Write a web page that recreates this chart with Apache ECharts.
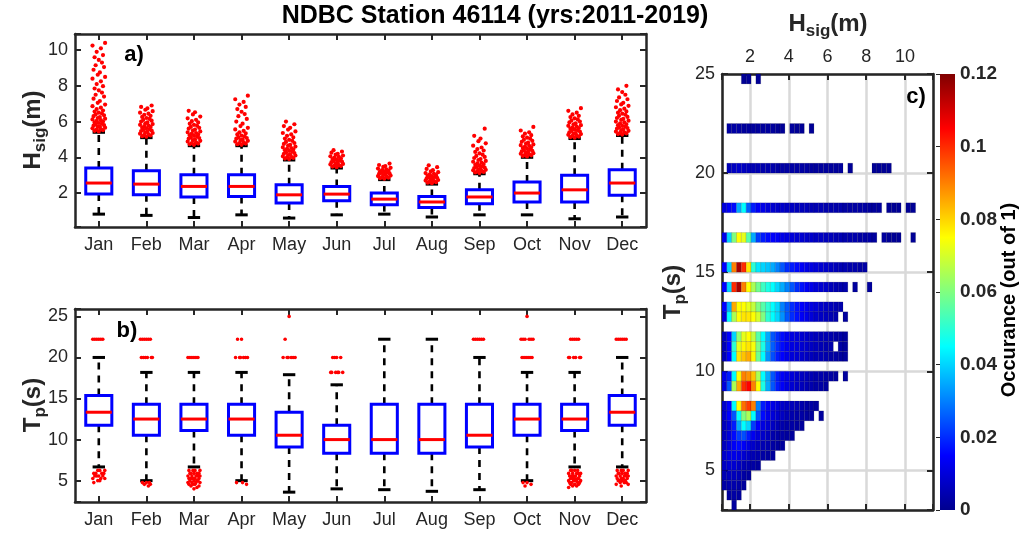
<!DOCTYPE html>
<html>
<head>
<meta charset="utf-8">
<script src="https://cdn.jsdelivr.net/npm/echarts@6/dist/echarts.min.js"></script>
<style>
  html, body { margin: 0; padding: 0; background: #fff; }
  #chart { width: 1021px; height: 537px; }
</style>
</head>
<body>
<div id="chart"></div>
<script>
const _ = null
const months = ['Jan', 'Feb', 'Mar', 'Apr', 'May', 'Jun', 'Jul', 'Aug', 'Sep', 'Oct', 'Nov', 'Dec']

// a) Hsig (m) monthly box statistics
const hsigLow  = [0.82, 0.75, 0.63, 0.78, 0.60, 0.78, 0.82, 0.66, 0.78, 0.78, 0.56, 0.66]
const hsigQ1   = [1.94, 1.90, 1.78, 1.81, 1.44, 1.57, 1.35, 1.19, 1.40, 1.50, 1.50, 1.87]
const hsigMed  = [2.56, 2.50, 2.37, 2.37, 1.90, 1.94, 1.66, 1.50, 1.78, 2.00, 2.18, 2.56]
const hsigQ3   = [3.40, 3.25, 3.02, 3.02, 2.47, 2.37, 2.00, 1.81, 2.18, 2.62, 2.99, 3.31]
const hsigHigh = [5.40, 5.10, 4.65, 4.65, 3.85, 3.40, 2.75, 2.50, 3.08, 4.00, 5.05, 5.22]

// a) Hsig outliers per month
const hsigOutliers = [
    [5.45, 5.48, 5.52, 5.55, 5.58, 5.62, 5.66, 5.7, 5.73, 5.77, 5.8, 5.84, 5.88, 5.92, 5.95, 6.0, 6.04, 6.08, 6.12, 6.16, 6.2, 6.25, 6.3, 6.35, 6.4, 6.45, 6.5, 6.56, 6.62, 6.7, 6.78, 6.86, 6.95, 7.05, 7.15, 7.28, 7.4, 7.5, 7.62, 7.75, 7.85, 7.98, 8.1, 8.25, 8.4, 8.5, 8.62, 8.75, 8.9, 9.05, 9.15, 9.3, 9.45, 9.6, 9.72, 9.9, 10.1, 10.25, 10.4],
    [5.15, 5.18, 5.22, 5.25, 5.29, 5.32, 5.36, 5.4, 5.43, 5.47, 5.5, 5.54, 5.58, 5.62, 5.66, 5.7, 5.74, 5.78, 5.82, 5.86, 5.9, 5.95, 6.0, 6.05, 6.1, 6.15, 6.2, 6.26, 6.32, 6.38, 6.44, 6.5, 6.58, 6.66, 6.74, 6.82, 6.9],
    [4.7, 4.73, 4.77, 4.8, 4.84, 4.88, 4.92, 4.96, 5.0, 5.04, 5.08, 5.12, 5.16, 5.2, 5.24, 5.28, 5.32, 5.36, 5.4, 5.45, 5.5, 5.55, 5.6, 5.65, 5.7, 5.76, 5.82, 5.88, 5.95, 6.02, 6.1, 6.18, 6.28, 6.4, 6.52, 6.6],
    [4.7, 4.73, 4.77, 4.8, 4.84, 4.88, 4.92, 4.96, 5.0, 5.04, 5.08, 5.12, 5.17, 5.22, 5.28, 5.34, 5.4, 5.48, 5.56, 5.65, 5.75, 5.88, 6.0, 6.15, 6.3, 6.42, 6.55, 6.7, 6.82, 6.95, 7.1, 7.25, 7.45],
    [3.9, 3.93, 3.96, 4.0, 4.03, 4.06, 4.1, 4.13, 4.16, 4.2, 4.24, 4.28, 4.32, 4.36, 4.4, 4.44, 4.48, 4.52, 4.56, 4.6, 4.65, 4.7, 4.75, 4.8, 4.86, 4.92, 4.98, 5.05, 5.12, 5.2, 5.28, 5.36, 5.45, 5.55, 5.65, 5.75, 5.85, 6.0],
    [3.45, 3.48, 3.51, 3.54, 3.57, 3.6, 3.63, 3.66, 3.7, 3.73, 3.76, 3.8, 3.83, 3.86, 3.9, 3.94, 3.98, 4.02, 4.06, 4.1, 4.15, 4.2, 4.26, 4.32, 4.4],
    [2.8, 2.83, 2.86, 2.89, 2.92, 2.95, 2.98, 3.01, 3.04, 3.07, 3.1, 3.13, 3.16, 3.19, 3.22, 3.25, 3.29, 3.33, 3.37, 3.41, 3.46, 3.51, 3.57, 3.65],
    [2.55, 2.58, 2.61, 2.64, 2.67, 2.7, 2.73, 2.76, 2.79, 2.82, 2.85, 2.88, 2.91, 2.94, 2.97, 3.0, 3.04, 3.08, 3.12, 3.17, 3.22, 3.28, 3.35, 3.45, 3.55],
    [3.12, 3.15, 3.18, 3.21, 3.24, 3.27, 3.3, 3.33, 3.36, 3.4, 3.43, 3.46, 3.5, 3.54, 3.58, 3.62, 3.66, 3.7, 3.75, 3.8, 3.85, 3.9, 3.96, 4.02, 4.08, 4.15, 4.22, 4.3, 4.38, 4.46, 4.55, 4.65, 4.78, 4.9, 5.05, 5.2, 5.6],
    [4.05, 4.08, 4.11, 4.14, 4.17, 4.2, 4.23, 4.26, 4.3, 4.33, 4.36, 4.4, 4.44, 4.48, 4.52, 4.56, 4.6, 4.64, 4.68, 4.72, 4.77, 4.82, 4.87, 4.92, 4.98, 5.04, 5.1, 5.17, 5.24, 5.32, 5.4, 5.5, 5.7],
    [5.1, 5.13, 5.16, 5.2, 5.23, 5.26, 5.3, 5.33, 5.36, 5.4, 5.44, 5.48, 5.52, 5.56, 5.6, 5.64, 5.68, 5.72, 5.76, 5.8, 5.85, 5.9, 5.95, 6.0, 6.06, 6.12, 6.18, 6.25, 6.32, 6.4, 6.5, 6.6, 6.75],
    [5.27, 5.3, 5.34, 5.37, 5.4, 5.44, 5.48, 5.52, 5.56, 5.6, 5.64, 5.68, 5.72, 5.76, 5.8, 5.85, 5.9, 5.95, 6.0, 6.05, 6.1, 6.15, 6.2, 6.26, 6.32, 6.38, 6.44, 6.5, 6.57, 6.64, 6.72, 6.8, 6.88, 6.96, 7.05, 7.15, 7.25, 7.35, 7.5, 7.65, 7.8, 8.0],
]

// b) Tp (s) monthly box statistics
const tpLow  = [6.67, 5.0, 6.67, 5.0, 3.6, 4.0, 3.9, 3.7, 3.9, 5.0, 6.67, 6.67]
const tpQ1   = [11.76, 10.53, 11.11, 10.53, 9.09, 8.33, 8.33, 8.33, 9.09, 10.53, 11.11, 11.76]
const tpMed  = [13.33, 12.5, 12.5, 12.5, 10.53, 10.0, 10.0, 10.0, 10.53, 12.5, 12.5, 13.33]
const tpQ3   = [15.38, 14.29, 14.29, 14.29, 13.33, 11.76, 14.29, 14.29, 14.29, 14.29, 14.29, 15.38]
const tpHigh = [20.0, 18.18, 18.18, 18.18, 17.9, 16.67, 22.22, 22.22, 20.0, 18.18, 18.18, 20.0]

// b) Tp outliers per month
const tpOutliers = [
    [22.22, 22.22, 22.22, 22.22, 22.22, 22.22, 6.25, 6.25, 6.25, 5.88, 5.88, 5.88, 5.88, 5.56, 5.56, 5.56, 5.56, 5.26, 5.26, 5.26, 5.0, 5.0, 4.76],
    [22.22, 22.22, 22.22, 22.22, 22.22, 22.22, 20, 20, 20, 20, 20, 20, 4.76, 4.76, 4.76, 4.55, 4.55, 4.35],
    [20, 20, 20, 20, 20, 20, 6.25, 6.25, 6.25, 6.25, 5.88, 5.88, 5.88, 5.88, 5.88, 5.56, 5.56, 5.56, 5.56, 5.56, 5.26, 5.26, 5.26, 5.26, 5.26, 5.0, 5.0, 5.0, 5.0, 4.76, 4.76, 4.76, 4.76, 4.55, 4.55, 4.55, 4.35, 4.35, 4.17, 4.0],
    [22.22, 22.22, 20, 20, 20, 20, 20, 20, 4.76, 4.76, 4.55],
    [25, 22.22, 20, 20, 20, 20, 20, 20],
    [20, 20, 20, 20, 18.18, 18.18, 18.18, 18.18, 18.18, 18.18],
    [],
    [],
    [22.22, 22.22, 22.22, 22.22, 22.22, 22.22],
    [25, 22.22, 22.22, 22.22, 22.22, 22.22, 22.22, 20, 20, 20, 20, 20, 20, 4.76, 4.76, 4.55, 4.35],
    [22.22, 22.22, 22.22, 22.22, 22.22, 20, 20, 20, 20, 20, 20, 6.25, 6.25, 6.25, 6.25, 5.88, 5.88, 5.88, 5.88, 5.88, 5.56, 5.56, 5.56, 5.56, 5.56, 5.26, 5.26, 5.26, 5.26, 5.26, 5.0, 5.0, 5.0, 5.0, 5.0, 4.76, 4.76, 4.76, 4.76, 4.55, 4.55, 4.55, 4.35, 4.35, 4.17],
    [22.22, 22.22, 22.22, 22.22, 22.22, 22.22, 6.25, 6.25, 6.25, 6.25, 5.88, 5.88, 5.88, 5.88, 5.88, 5.56, 5.56, 5.56, 5.56, 5.56, 5.26, 5.26, 5.26, 5.26, 5.0, 5.0, 5.0, 5.0, 4.76, 4.76, 4.76, 4.55, 4.55, 4.35],
]

// c) joint occurrence: Tp bin edges per row, Hsig bins of 0.25 m from 0.55 m
const tpBinLow  = [24.5, 22.0, 20.0, 18.0, 16.5, 15.0, 14.0, 13.0, 12.5, 11.5, 11.0, 10.5, 9.5, 9.0, 8.0, 7.5, 7.0, 6.5, 6.0, 5.5, 5.0, 4.5, 4.0, 3.5, 3.0]
const tpBinHigh = [25.0, 22.5, 20.5, 18.5, 17.0, 15.5, 14.5, 13.5, 13.0, 12.0, 11.5, 11.0, 10.0, 9.5, 8.5, 8.0, 7.5, 7.0, 6.5, 6.0, 5.5, 5.0, 4.5, 4.0, 3.5]
const hsigBinStart = 0.55
const hsigBinWidth = 0.25
const occurrence = [
    [_, _, _, _, .001, .001, _, .001],
    [_, .003, .003, .003, .002, .002, .002, .002, .002, .002, .002, .001, .001, _, .002, .001, .001, _, .001],
    [_, .006, .007, .008, .007, .006, .005, .005, .004, .004, .004, .003, .003, .003, .003, .003, .003, .003, .002, .002, .002, .002, .002, .002, .002, _, .001, _, _, _, _, .001, .001, .001, .001],
    [.01, .014, .016, .035, .045, .026, .018, .014, .012, .01, .009, .008, .008, .007, .007, .006, .006, .006, .005, .005, .005, .004, .004, .004, .004, .003, .003, .003, .003, .003, .002, .002, .002, _, .001, .001, .001, _, .001, .001],
    [.012, .04, .06, .075, .072, .055, .035, .022, .018, .016, .015, .014, .012, .011, .01, .009, .009, .008, .008, .007, .007, .006, .006, .005, .005, .004, .004, .004, .003, .003, .003, .002, _, .002, .001, .001, .001, _, _, .001],
    [.015, .04, .09, .115, .1, .078, .05, .042, .04, .038, .035, .03, .025, .02, .018, .016, .014, .012, .011, .01, .009, .008, .007, .006, .005, .005, .004, .004, .003, .003],
    [.015, .04, .1, .115, .09, .075, .065, .058, .052, .048, .045, .04, .035, .03, .025, .02, .017, .014, .012, .01, .009, .008, .006, .005, .004, .004, _, .002, _, _, .002],
    [.015, .035, .085, .075, .075, .072, .068, .06, .055, .05, .045, .04, .03, .025, .02, .017, .015, .013, .011, .01, .008, .007, .006, .005, .004],
    [.01, .045, .065, .075, .078, .078, .075, .07, .06, .05, .045, .04, .032, .025, .02, .017, .014, .012, .01, .008, .007, .006, .005, .004, _, .002],
    [.006, .015, .04, .062, .072, .075, .068, .055, .045, .035, .025, .02, .016, .013, .011, .01, .009, .008, .007, .006, .005, .005, .004, .003, .003, .002],
    [.005, .015, .05, .072, .076, .078, .074, .06, .048, .035, .026, .02, .016, .013, .011, .01, .009, .008, .007, .006, .005, .004, .004, _, .003, .002],
    [.005, .015, .045, .078, .082, .085, .076, .058, .045, .032, .024, .018, .015, .012, .01, .009, .008, .007, .006, .005, .005, .004, .003, .003, .002, .002],
    [.012, .018, .045, .075, .09, .088, .082, .065, .045, .035, .025, .018, .014, .012, .01, .008, .007, .006, .005, .004, .004, .003, .003, .002, _, .002],
    [.01, .025, .065, .085, .1, .105, .09, .075, .048, .035, .025, .018, .014, .011, .009, .007, .006, .005, .004, .003, .003, .002],
    [.008, .015, .045, .075, .092, .098, .09, .03, .018, .014, .012, .01, .008, .007, .006, .005, .004, .003, .003, .002],
    [.008, .015, .025, .045, .06, .065, .045, .025, .016, .012, .01, .008, .007, .005, .004, .003, .003, .002, .002, _, .002],
    [.006, .01, .018, .035, .045, .04, .022, .015, .011, .009, .007, .005, .004, .003, .003, .002, .002],
    [.006, .01, .016, .022, .024, .018, .013, .01, .008, .006, .004, .003, .003, .002, .002],
    [.006, .01, .014, .016, .014, .011, .008, .006, .005, .004, .003, .002, .002],
    [.008, .011, .012, .011, .009, .007, .005, .004, .003, .002, .002],
    [.007, .009, .009, .007, .005, .004, .003, .002],
    [.005, .006, .006, .005, .003, .002],
    [.003, .004, .004, .003, .002],
    [_, .002, .003, .002],
    [_, _, .002],
]

// jet colormap
const jetColors = ['#00008f', '#0000ff', '#0080ff', '#00ffff', '#80ff80', '#ffff00', '#ff8000', '#ff0000', '#800000']
// horizontal scatter of outlier dots
const jitter = [0, -4, 4, -2, 2, -6, 6, -1, 1, -5, 5, -3, 3]

const FONT = '"Liberation Sans", Arial, Helvetica, sans-serif'
const AX = '#262626'

function boxData(lo, q1, md, q3, hi) {
    return months.map((m, i) => [i, lo[i], q1[i], md[i], q3[i], hi[i]])
}
function outlierData(list) {
    let res = []
    list.forEach((vals, m) => vals.forEach((v, j) => res.push([m, v, j])))
    return res
}
let cells = []
occurrence.forEach((row, r) => {
    row.forEach((v, k) => {
        if (v === null) return
        let x0 = hsigBinStart + k * hsigBinWidth
        cells.push([x0, x0 + hsigBinWidth, tpBinLow[r], tpBinHigh[r], v])
    })
})

function renderBox(params, api) {
    let i = api.value(0)
    let lo = api.coord([i, api.value(1)])
    let q1 = api.coord([i, api.value(2)])
    let md = api.coord([i, api.value(3)])
    let q3 = api.coord([i, api.value(4)])
    let hi = api.coord([i, api.value(5)])
    let bw = api.size([1, 0])[0]
    let half = bw * 0.274
    let cap = bw * 0.13
    let x = lo[0]
    let dash = { stroke: '#000', lineWidth: 2.6, lineDash: [7, 6] }
    let solid = { stroke: '#000', lineWidth: 3 }
    return {
        type: 'group',
        children: [
            { type: 'line', shape: { x1: x, y1: q3[1], x2: x, y2: hi[1] }, style: dash },
            { type: 'line', shape: { x1: x, y1: q1[1], x2: x, y2: lo[1] }, style: dash },
            { type: 'line', shape: { x1: x - cap, y1: hi[1], x2: x + cap, y2: hi[1] }, style: solid },
            { type: 'line', shape: { x1: x - cap, y1: lo[1], x2: x + cap, y2: lo[1] }, style: solid },
            { type: 'rect', shape: { x: x - half, y: q3[1], width: half * 2, height: q1[1] - q3[1] }, style: { fill: 'none', stroke: '#0000ff', lineWidth: 3 } },
            { type: 'line', shape: { x1: x - half, y1: md[1], x2: x + half, y2: md[1] }, style: { stroke: '#ff0000', lineWidth: 3 } },
        ],
    }
}
function makeOutlierRender(spread, r) {
    return function(params, api) {
        let p = api.coord([api.value(0), api.value(1)])
        let dx = jitter[api.value(2) % jitter.length] * spread
        return { type: 'circle', shape: { cx: p[0] + dx, cy: p[1], r: r }, style: { fill: '#ff0000' } }
    }
}
function renderCell(params, api) {
    let a = api.coord([api.value(0), api.value(3)])
    let b = api.coord([api.value(1), api.value(2)])
    return {
        type: 'rect',
        shape: { x: a[0], y: a[1], width: b[0] - a[0], height: b[1] - a[1] },
        style: { fill: api.visual('color'), stroke: 'rgba(0,0,0,0.22)', lineWidth: 0.6 },
    }
}
function renderColorbar(params, api) {
    let a = api.coord([api.value(0), api.value(3)])
    let b = api.coord([api.value(1), api.value(2)])
    let stops = jetColors.map((c, i) => ({ offset: i / (jetColors.length - 1), color: c }))
    return {
        type: 'rect',
        shape: { x: a[0], y: a[1], width: b[0] - a[0], height: b[1] - a[1] },
        style: { fill: new echarts.graphic.LinearGradient(0, 1, 0, 0, stops) },
    }
}

function stepLabel(step) {
    return v => (Math.abs(v / step - Math.round(v / step)) < 1e-6 ? String(+v.toFixed(2)) : '')
}
function frame(opt) {
    let base = {
        axisLine: { show: true, onZero: false, lineStyle: { color: AX, width: 2.5 } },
        axisTick: { show: true, inside: true, length: 6, lineStyle: { color: AX, width: 2 } },
        axisLabel: { show: false },
        splitLine: { show: false },
    }
    return Object.assign(base, opt)
}
const tickLabel = { show: true, color: AX, fontSize: 18, fontFamily: FONT }
const catTick = { show: true, inside: true, alignWithLabel: true, length: 6, lineStyle: { color: AX, width: 2 } }

const titleRich = {
    b: { fontSize: 24, fontWeight: 'bold', fontFamily: FONT, fill: AX },
    s: { fontSize: 17, fontWeight: 'bold', fontFamily: FONT, fill: AX, padding: [14, 0, 0, 0] },
}
function label(text, x, y, size, rotate) {
    return {
        type: 'text', x: x, y: y, rotation: rotate ? Math.PI / 2 : 0, silent: true,
        style: { text: text, font: 'bold ' + size + 'px ' + FONT, fill: '#000', align: 'center', verticalAlign: 'middle' },
    }
}
function richLabel(text, x, y, rotate) {
    return {
        type: 'text', x: x, y: y, rotation: rotate ? Math.PI / 2 : 0, silent: true,
        style: { text: text, rich: titleRich, align: 'center', verticalAlign: 'middle' },
    }
}

const chart = echarts.init(document.getElementById('chart'), null, { renderer: 'canvas' })
const option = {
    animation: false,
    backgroundColor: '#fff',
    textStyle: { fontFamily: FONT },
    grid: [
        { left: 75, top: 34, width: 571, height: 193 },
        { left: 75, top: 309, width: 571, height: 193 },
        { left: 722, top: 74, width: 211, height: 436 },
        { left: 940, top: 74, width: 15, height: 436 },
    ],
    xAxis: [
        frame({ gridIndex: 0, type: 'category', data: months, position: 'bottom', axisLabel: Object.assign({ margin: 9 }, tickLabel), axisTick: catTick }),
        frame({ gridIndex: 0, type: 'category', data: months, position: 'top', axisTick: catTick }),
        frame({ gridIndex: 1, type: 'category', data: months, position: 'bottom', axisLabel: Object.assign({ margin: 9 }, tickLabel), axisTick: catTick }),
        frame({ gridIndex: 1, type: 'category', data: months, position: 'top', axisTick: catTick }),
        frame({ gridIndex: 2, type: 'value', min: 0.55, max: 11.45, splitNumber: 5, position: 'top', axisLabel: Object.assign({ margin: 8, formatter: stepLabel(2) }, tickLabel), splitLine: { show: true, lineStyle: { color: '#d9d9d9', width: 2.5 } } }),
        frame({ gridIndex: 2, type: 'value', min: 0.55, max: 11.45, splitNumber: 5, position: 'bottom' }),
        { gridIndex: 3, type: 'value', min: 0, max: 1, show: false },
    ],
    yAxis: [
        frame({ gridIndex: 0, type: 'value', min: 0.1, max: 10.9, splitNumber: 5, position: 'left', axisLabel: Object.assign({ margin: 7, formatter: stepLabel(2) }, tickLabel) }),
        frame({ gridIndex: 0, type: 'value', min: 0.1, max: 10.9, splitNumber: 5, position: 'right' }),
        frame({ gridIndex: 1, type: 'value', min: 2.4, max: 25.9, splitNumber: 5, position: 'left', axisLabel: Object.assign({ margin: 7, formatter: stepLabel(5) }, tickLabel) }),
        frame({ gridIndex: 1, type: 'value', min: 2.4, max: 25.9, splitNumber: 5, position: 'right' }),
        frame({ gridIndex: 2, type: 'value', min: 3, max: 25, splitNumber: 5, position: 'left', axisLabel: Object.assign({ margin: 7, formatter: stepLabel(5) }, tickLabel), splitLine: { show: true, lineStyle: { color: '#d9d9d9', width: 2.5 } } }),
        frame({ gridIndex: 2, type: 'value', min: 3, max: 25, splitNumber: 5, position: 'right' }),
        {
            gridIndex: 3, type: 'value', min: 0, max: 0.12, interval: 0.02, position: 'right',
            axisLine: { show: false },
            axisTick: { show: true, inside: true, length: 4, lineStyle: { color: AX, width: 1 } },
            axisLabel: { show: true, color: AX, fontSize: 19, fontWeight: 'bold', fontFamily: FONT, margin: 5 },
            splitLine: { show: false },
        },
    ],
    visualMap: {
        show: false, type: 'continuous', min: 0, max: 0.12, dimension: 4, seriesIndex: 4,
        inRange: { color: jetColors },
    },
    series: [
        { name: 'Hsig box', type: 'custom', xAxisIndex: 0, yAxisIndex: 0, renderItem: renderBox, encode: { x: 0, y: [1, 2, 3, 4, 5] }, data: boxData(hsigLow, hsigQ1, hsigMed, hsigQ3, hsigHigh), z: 2, silent: true },
        { name: 'Hsig outliers', type: 'custom', xAxisIndex: 0, yAxisIndex: 0, renderItem: makeOutlierRender(1.05, 2.1), encode: { x: 0, y: 1 }, data: outlierData(hsigOutliers), z: 3, silent: true },
        { name: 'Tp box', type: 'custom', xAxisIndex: 2, yAxisIndex: 2, renderItem: renderBox, encode: { x: 0, y: [1, 2, 3, 4, 5] }, data: boxData(tpLow, tpQ1, tpMed, tpQ3, tpHigh), z: 2, silent: true },
        { name: 'Tp outliers', type: 'custom', xAxisIndex: 2, yAxisIndex: 2, renderItem: makeOutlierRender(1, 1.8), encode: { x: 0, y: 1 }, data: outlierData(tpOutliers), z: 3, silent: true },
        { name: 'Occurance', type: 'custom', xAxisIndex: 4, yAxisIndex: 4, renderItem: renderCell, encode: { x: [0, 1], y: [2, 3] }, data: cells, z: 2, silent: true },
        { name: 'Colorbar', type: 'custom', xAxisIndex: 6, yAxisIndex: 6, renderItem: renderColorbar, encode: { x: [0, 1], y: [2, 3] }, data: [[0, 1, 0, 0.12]], silent: true },
    ],
    graphic: [
        label('NDBC Station 46114 (yrs:2011-2019)', 495, 16, 25, false),
        label('a)', 134, 55, 22, false),
        label('b)', 127, 331, 22, false),
        label('c)', 916, 97, 22, false),
        richLabel('{b|H}{s|sig}{b|(m)}', 33, 130, true),
        richLabel('{b|T}{s|p}{b|(s)}', 33, 405, true),
        richLabel('{b|T}{s|p}{b|(s)}', 673, 292, true),
        richLabel('{b|H}{s|sig}{b|(m)}', 828, 24, false),
        label('Occurance (out of 1)', 1009, 300, 20, true),
    ],
}
chart.setOption(option)
</script>
</body>
</html>
